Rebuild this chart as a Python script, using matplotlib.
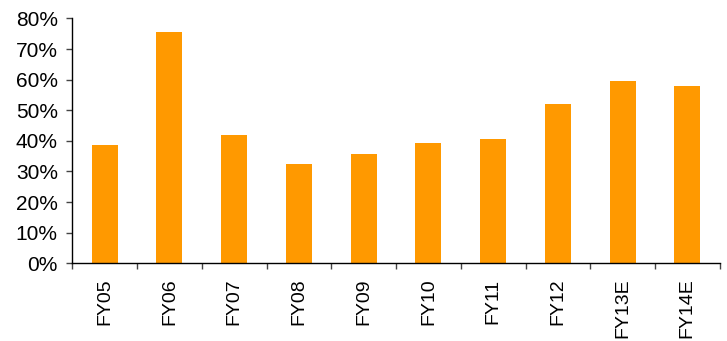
import numpy as np
import matplotlib.pyplot as plt
from matplotlib.ticker import FuncFormatter, MultipleLocator

plt.rcParams['font.family'] = ['Liberation Sans', 'DejaVu Sans']

years = ['FY05', 'FY06', 'FY07', 'FY08', 'FY09', 'FY10', 'FY11', 'FY12', 'FY13E', 'FY14E']
ratio = [38.6, 75.5, 41.9, 32.4, 35.7, 39.3, 40.6, 52.0, 59.5, 57.9]

fig = plt.figure(figsize=(7.27, 3.41), dpi=100)
ax = fig.add_axes([0.0995, 0.228, 0.8905, 0.718])

x = np.arange(len(years))
ax.bar(x, ratio, width=0.4, color='#FF9900')

ax.set_xlim(-0.5, len(years) - 0.5)
ax.set_ylim(0, 80)
ax.yaxis.set_major_locator(MultipleLocator(10))
ax.yaxis.set_major_formatter(FuncFormatter(lambda v, p: '%d%%' % v))

# category labels in the middle, ticks on the category boundaries
ax.set_xticks(x)
ax.set_xticklabels(years, rotation=90)
ax.set_xticks(np.arange(len(years) + 1) - 0.5, minor=True)
ax.tick_params(axis='x', which='major', length=0, labelsize=14, pad=11)
ax.tick_params(axis='x', which='minor', length=4.5, width=1, direction='out', color='#444444')
ax.tick_params(axis='y', length=4.5, width=1, labelsize=15, pad=6, color='#444444')

for s in ['top', 'right']:
    ax.spines[s].set_visible(False)
for s in ['left', 'bottom']:
    ax.spines[s].set_linewidth(1)

fig.savefig('out.png', dpi=100)
